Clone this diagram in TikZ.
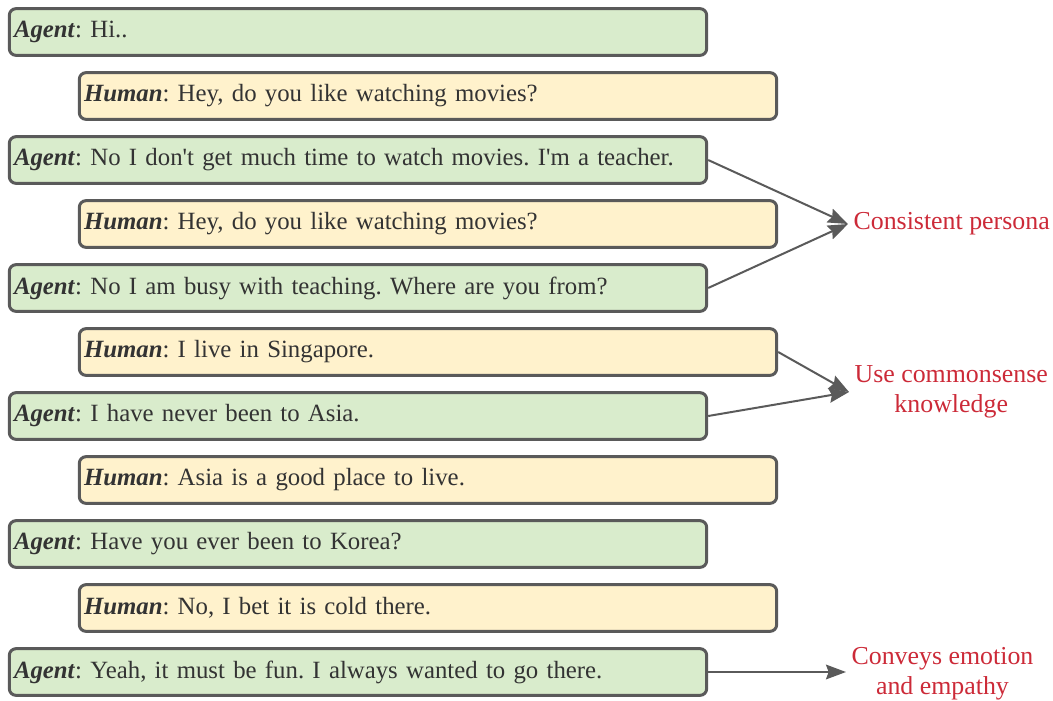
\documentclass[tikz,border=0pt]{standalone}
\usepackage{fontspec}
\setmainfont{Liberation Serif}[Ligatures=TeXOff]
\usetikzlibrary{arrows.meta,positioning}
\definecolor{agent}{RGB}{217,236,204}
\definecolor{human}{RGB}{255,242,204}
\definecolor{rim}{RGB}{90,90,90}
\definecolor{ink}{RGB}{51,51,51}
\definecolor{remark}{RGB}{204,42,56}
\tikzset{
  >={Stealth[length=15pt,width=11pt,inset=2pt]},
  msg/.style={draw=rim,fill=#1,line width=2.25pt,rounded corners=5pt,
    minimum width=523pt,minimum height=35pt,text width=516pt,
    inner xsep=3.5pt,align=left,text=ink,
    font=\frenchspacing\fontsize{18.6}{21}\selectfont},
  msg/.default=agent,
  flow/.style={->,line width=1.5pt,draw=rim},
  note/.style={text=remark,align=center,anchor=west,inner xsep=4pt,
    font=\fontsize{19.4}{22.5}\selectfont},
}
\newcommand{\comma}{,}
\newcommand{\who}[1]{\textbf{\textit{#1}}}

\begin{document}
\begin{tikzpicture}[x=0.75pt,y=-0.75pt]
  \useasboundingbox (0,0) rectangle (1053,700);
  \foreach \t/\c/\x [count=\i from 0] in {
      \who{Agent}: Hi../agent/358,
      \who{Human}: Hey\comma{} do you like watching movies?/human/428,
      \who{Agent}: No I don't get much time to watch movies. I'm a teacher./agent/358,
      \who{Human}: Hey\comma{} do you like watching movies?/human/428,
      \who{Agent}: No I am busy with teaching. Where are you from?/agent/358,
      \who{Human}: I live in Singapore./human/428,
      \who{Agent}: I have never been to Asia./agent/358,
      \who{Human}: Asia is a good place to live./human/428,
      \who{Agent}: Have you ever been to Korea?/agent/358,
      \who{Human}: No\comma{} I bet it is cold there./human/428,
      \who{Agent}: Yeah\comma{} it must be fun. I always wanted to go there./agent/358}{
    \pgfmathsetmacro{\y}{32+64*\i}
    \node[msg=\c] (m\i) at (\x,\y) {\t};
  }
  % remarks on the right
  \node[note] (persona) at (848,224) {Consistent persona};
  \node[note] (sense) at (849,392) {Use commonsense\\knowledge};
  \node[note] (empathy) at (846,674) {Conveys emotion\\and empathy};
  \draw[flow] (m2.east) -- (persona.west);
  \draw[flow] (m4.east) -- (persona.west);
  \draw[flow] (m5.east) -- (sense.west);
  \draw[flow] (m6.east) -- (sense.west);
  \draw[flow] (m10.east) -- (m10.east -| empathy.west);
\end{tikzpicture}
\end{document}
